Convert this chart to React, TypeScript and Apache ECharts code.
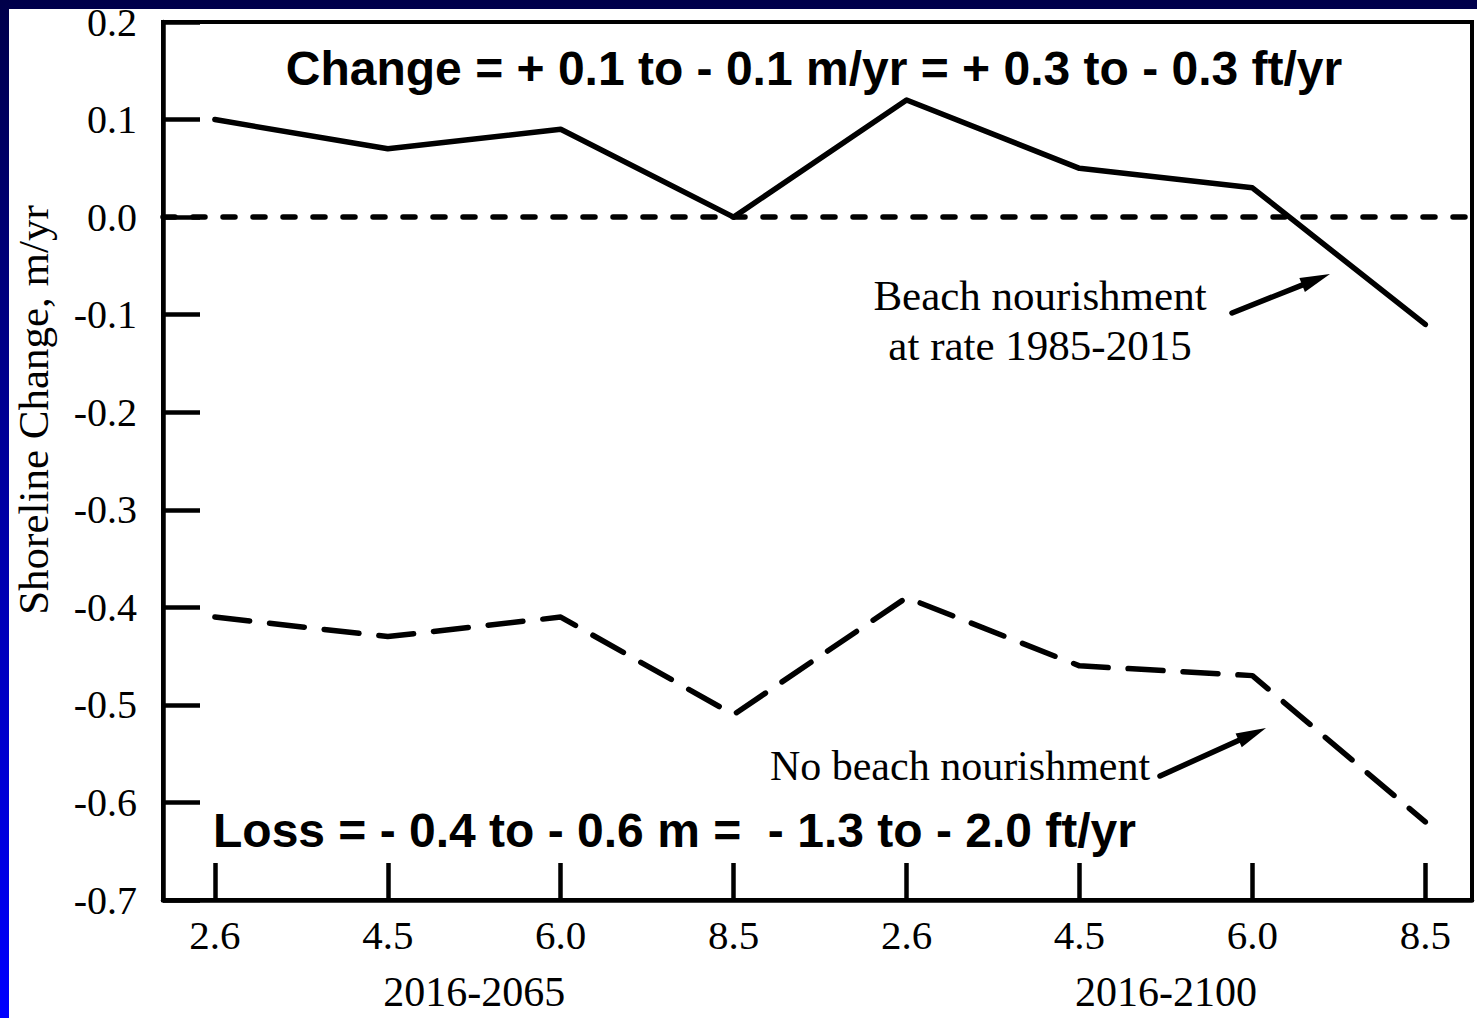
import React, { useEffect, useRef } from "react";
import * as echarts from "echarts";

// ---- data ----
const scenarios = ["2.6", "4.5", "6.0", "8.5", "2.6", "4.5", "6.0", "8.5"];
const periods = ["2016-2065", "2016-2100"];
const withNourishment = [0.1, 0.07, 0.09, 0.0, 0.12, 0.05, 0.03, -0.11];
const noNourishment = [-0.41, -0.43, -0.41, -0.51, -0.39, -0.46, -0.47, -0.62];
const referenceLevel = 0;
const yTitle = "Shoreline Change, m/yr";
const topNote = "Change = + 0.1 to - 0.1 m/yr = + 0.3 to - 0.3 ft/yr";
const bottomNote = "Loss = - 0.4 to - 0.6 m =  - 1.3 to - 2.0 ft/yr";
const labelNourish = "Beach nourishment\nat rate 1985-2015";
const labelNoNourish = "No beach nourishment";

const SERIF = "'Liberation Serif', 'Times New Roman', serif";
const SANS = "'Liberation Sans', Arial, sans-serif";

function arrow(x1: number, y1: number, x2: number, y2: number) {
  const dx = x2 - x1;
  const dy = y2 - y1;
  const len = Math.sqrt(dx * dx + dy * dy);
  const ux = dx / len;
  const uy = dy / len;
  const nx = -uy;
  const ny = ux;
  const hl = 30;
  const hw = 7.5;
  const bx = x2 - ux * hl;
  const by = y2 - uy * hl;
  return [
    {
      type: "line",
      shape: { x1, y1, x2: bx + ux * 4, y2: by + uy * 4 },
      style: { stroke: "#000", lineWidth: 5.5, lineCap: "round" },
    },
    {
      type: "polygon",
      shape: {
        points: [
          [x2, y2],
          [bx + nx * hw, by + ny * hw],
          [bx - nx * hw, by - ny * hw],
        ],
      },
      style: { fill: "#000" },
    },
  ];
}

export default function App() {
  const ref = useRef<HTMLDivElement>(null);

  useEffect(() => {
    if (!ref.current) return;
    const chart = echarts.init(ref.current, undefined, { renderer: "svg" });
    const perGroup = scenarios.length / periods.length;
    const periodCenters = periods.map((_, i) => i * perGroup + (perGroup - 1) / 2);
    const xIdx = scenarios.map((_, i) => i);

    const option: any = {
      animation: false,
      backgroundColor: "transparent",
      grid: {
        left: 163,
        right: 5,
        top: 22,
        bottom: 118,
        show: true,
        borderColor: "#000",
        borderWidth: 4,
        backgroundColor: "transparent",
      },
      xAxis: [
        {
          type: "value",
          min: -0.3,
          max: 7.27,
          axisLine: { show: true, onZero: false, lineStyle: { color: "#000", width: 4.5 } },
          axisTick: {
            show: true,
            inside: true,
            length: 37,
            customValues: xIdx,
            lineStyle: { color: "#000", width: 4.5 },
          },
          axisLabel: {
            show: true,
            customValues: xIdx,
            margin: 14,
            color: "#000",
            fontFamily: SERIF,
            fontSize: 41,
            formatter: (v: number) => scenarios[Math.round(v)] ?? "",
          },
          splitLine: { show: false },
        },
        {
          type: "value",
          position: "bottom",
          offset: 57,
          min: -0.3,
          max: 7.27,
          axisLine: { show: false, onZero: false },
          axisTick: { show: false },
          axisLabel: {
            show: true,
            customValues: periodCenters,
            margin: 14,
            color: "#000",
            fontFamily: SERIF,
            fontSize: 42,
            formatter: (v: number) => {
              const i = periodCenters.findIndex((c) => Math.abs(c - v) < 1e-6);
              return i >= 0 ? periods[i] : "";
            },
          },
          splitLine: { show: false },
        },
      ],
      yAxis: {
        type: "value",
        min: -0.7,
        max: 0.2,
        interval: 0.1,
        axisLine: { show: true, onZero: false, lineStyle: { color: "#000", width: 4.5 } },
        axisTick: {
          show: true,
          inside: true,
          length: 37,
          lineStyle: { color: "#000", width: 4.5 },
        },
        axisLabel: {
          color: "#000",
          fontFamily: SERIF,
          fontSize: 40,
          margin: 26,
          formatter: (v: number) => (Math.abs(v) < 1e-9 ? "0.0" : v.toFixed(1)),
        },
        splitLine: { show: false },
      },
      series: [
        {
          type: "line",
          name: "Beach nourishment at rate 1985-2015",
          data: withNourishment.map((v, i) => [i, v]),
          showSymbol: false,
          symbol: "none",
          lineStyle: { color: "#000", width: 5.5, cap: "round", join: "round" },
          markLine: {
            silent: true,
            symbol: ["none", "none"],
            label: { show: false },
            lineStyle: { color: "#000", width: 5.5, type: [12, 18], cap: "round" },
            data: [{ yAxis: referenceLevel }],
          },
          z: 3,
        },
        {
          type: "line",
          name: "No beach nourishment",
          data: noNourishment.map((v, i) => [i, v]),
          showSymbol: false,
          symbol: "none",
          lineStyle: { color: "#000", width: 5.5, type: [35, 20], cap: "round", join: "round" },
          z: 3,
        },
      ],
      graphic: [
        {
          type: "text",
          x: 33,
          y: 410,
          rotation: Math.PI / 2,
          style: {
            text: yTitle,
            fill: "#000",
            font: `43px ${SERIF}`,
            textAlign: "center",
            textVerticalAlign: "middle",
            align: "center",
            verticalAlign: "middle",
          },
        },
        {
          type: "text",
          x: 814,
          y: 68,
          style: {
            text: topNote,
            fill: "#000",
            font: `bold 48px ${SANS}`,
            textAlign: "center",
            textVerticalAlign: "middle",
            align: "center",
            verticalAlign: "middle",
          },
        },
        {
          type: "text",
          x: 213,
          y: 830,
          style: {
            text: bottomNote,
            fill: "#000",
            font: `bold 48px ${SANS}`,
            textAlign: "left",
            textVerticalAlign: "middle",
            align: "left",
            verticalAlign: "middle",
          },
        },
        {
          type: "text",
          x: 1040,
          y: 320,
          style: {
            text: labelNourish,
            fill: "#000",
            font: `43px ${SERIF}`,
            lineHeight: 50,
            textAlign: "center",
            textVerticalAlign: "middle",
            align: "center",
            verticalAlign: "middle",
          },
        },
        {
          type: "text",
          x: 960,
          y: 766,
          style: {
            text: labelNoNourish,
            fill: "#000",
            font: `42px ${SERIF}`,
            textAlign: "center",
            textVerticalAlign: "middle",
            align: "center",
            verticalAlign: "middle",
          },
        },
        ...arrow(1232, 313, 1330, 274),
        ...arrow(1160, 776, 1266, 728),
      ],
    };

    chart.setOption(option);
    return () => chart.dispose();
  }, []);

  return (
    <div
      style={{
        position: "fixed",
        left: 0,
        top: 0,
        width: 1477,
        height: 1018,
        background:
          "linear-gradient(#ffffff, #ffffff) 9px 9px / 1468px 1009px no-repeat, linear-gradient(to bottom, #00004a, #0000ff)",
      }}
    >
      <div ref={ref} style={{ width: 1477, height: 1018 }} />
    </div>
  );
}
